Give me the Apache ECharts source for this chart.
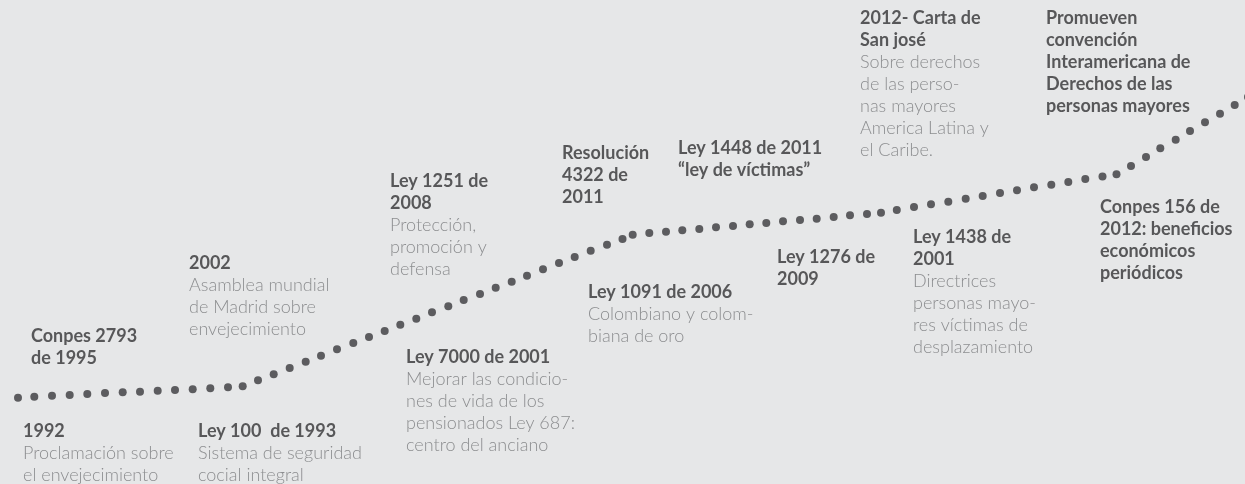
<!DOCTYPE html>
<html>
<head>
<meta charset="utf-8">
<script src="https://cdn.jsdelivr.net/npm/echarts@6/dist/echarts.min.js"></script>
<style>
html,body{margin:0;padding:0;background:#e6e7e8;}
#c{width:1245px;height:484px;}
</style>
</head>
<body>
<div id="c"></div>
<script>
// Timeline path (dots) in chart units
const dotX = [18,34.3,52,69.7,87.3,105,122.7,140,157.7,175,192.7,210.3,228,242.7,258,273.7,289.7,305.7,321,337,353.3,369,384.7,400.3,416.3,432,448.3,463.7,480,495.7,511.7,527,543,559,574.7,590.7,607,622.5,632.7,649.3,666,682.3,699.3,716,733,749.7,766.3,783,800,816.7,833.7,850,867,881,896.8,914,931,948.3,965.7,982.7,1000,1017,1034,1051.3,1068.3,1085.3,1102.5,1116.5,1131,1146,1160.3,1175.7,1190,1205,1220,1234.7,1248];
const dotY = [397.7,396.7,395.7,395,394,393,392.3,391.7,390.7,390,389.3,388.3,387.3,386.3,380.3,374.3,368,361.7,355.7,349.3,343,337,331,324.7,318.7,312.3,306.3,300,294,287.7,281.7,275.7,269.3,263,257,250.7,244.7,239,234.8,233,231.7,230.3,229,227.3,226,224.3,223,221.3,220,218.7,217,215.3,214,212.7,210,207,204.3,201.7,198.7,196,193,190.3,187.3,184.7,182,179,176.5,174.2,166,157,148.3,139.7,131,122.3,113.7,105,97];

// Events
const eventTitles = [
  ['1992'],
  ['Ley 100  de 1993'],
  ['Conpes 2793','de 1995'],
  ['2002'],
  ['Ley 1251 de','2008'],
  ['Ley 7000 de 2001'],
  ['Resolución','4322 de','2011'],
  ['Ley 1448 de 2011','“ley de víctimas”'],
  ['Ley 1091 de 2006'],
  ['Ley 1276 de','2009'],
  ['Ley 1438 de','2001'],
  ['2012- Carta de','San josé'],
  ['Promueven','convención','Interamericana de','Derechos de las','personas mayores'],
  ['Conpes 156 de','2012: beneficios','económicos','periódicos']
];
const eventNotes = [
  ['Proclamación sobre','el envejecimiento'],
  ['Sistema de seguridad','cocial integral'],
  [],
  ['Asamblea mundial','de Madrid sobre','envejecimiento'],
  ['Protección,','promoción y','defensa'],
  ['Mejorar las condicio-','nes de vida de los','pensionados Ley 687:','centro del anciano'],
  [],
  [],
  ['Colombiano y colom-','biana de oro'],
  [],
  ['Directrices','personas mayo-','res víctimas de','desplazamiento'],
  ['Sobre derechos','de las perso-','nas mayores','America Latina y','el Caribe.'],
  [],
  []
];
const eventX = [23,198,31,189,390,406,562,678,588,777,913,860,1046,1100];
const eventY = [420,420,325,252,170,346,142,137,281,246,226,7,7,196];

const chart = echarts.init(document.getElementById('c'), null, {renderer:'canvas'});
const dots = dotX.map((x,i)=>[x, dotY[i]]);
const events = eventX.map((x,i)=>({value:[x, eventY[i]], idx:i}));

chart.setOption({
  backgroundColor:'#e6e7e8',
  animation:false,
  grid:{left:0,right:0,top:0,bottom:0},
  xAxis:{type:'value',min:0,max:1245,show:false},
  yAxis:{type:'value',min:0,max:484,inverse:true,show:false},
  series:[
    {
      type:'scatter',
      data:dots,
      symbol:'circle',
      symbolSize:8,
      clip:false,
      silent:true,
      itemStyle:{color:'#3a3a3c'}
    },
    {
      type:'scatter',
      data:events,
      symbolSize:0,
      clip:false,
      silent:true,
      label:{
        show:true,
        position:[0,0],
        align:'left',
        verticalAlign:'top',
        padding:0,
        formatter:function(p){
          const i = p.data.idx;
          const lines = eventTitles[i].map(t=>'{h|'+t+'}').concat(eventNotes[i].map(t=>'{d|'+t+'}'));
          return lines.join('\n');
        },
        rich:{
          h:{fontFamily:'Lato',fontWeight:'bold',fontSize:18,lineHeight:22,color:'#333335'},
          d:{fontFamily:'Lato',fontWeight:300,fontSize:18,lineHeight:22,color:'#767779'}
        }
      }
    }
  ]
});
</script>
</body>
</html>
